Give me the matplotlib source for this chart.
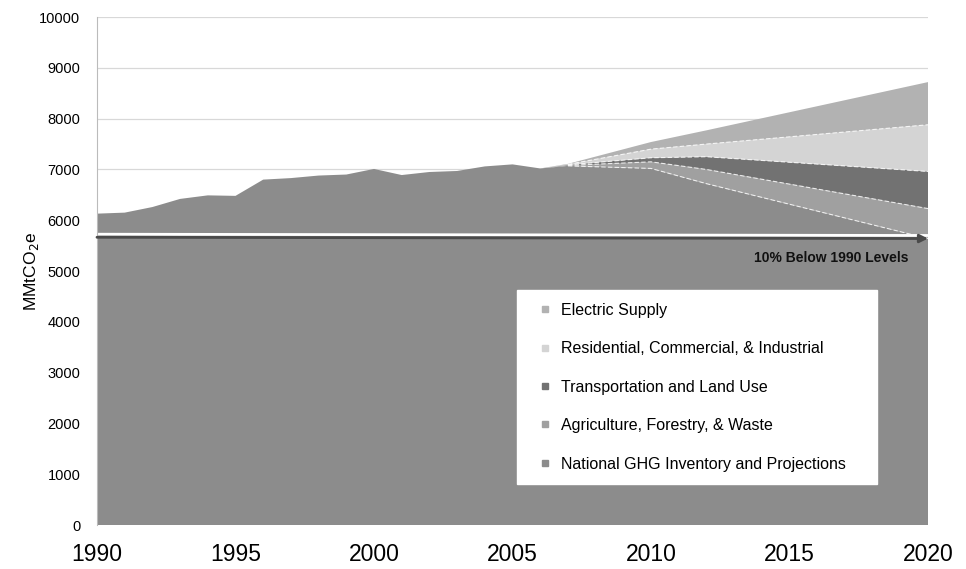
import numpy as np
import matplotlib.pyplot as plt
from matplotlib.lines import Line2D

plt.rcParams['font.family'] = ['Liberation Sans', 'DejaVu Sans']

# historical inventory (MMtCO2e)
hist_years = [1990, 1991, 1992, 1993, 1994, 1995, 1996, 1997, 1998, 1999,
              2000, 2001, 2002, 2003, 2004, 2005, 2006]
hist_vals = [6130, 6150, 6260, 6420, 6490, 6480, 6800, 6830, 6880, 6900,
             7010, 6890, 6950, 6970, 7060, 7100, 7020]

# projection wedges after 2006, stacked from the bottom
proj_years = [2007, 2010, 2012, 2020]
national = [7070, 7020, 6720, 5640]
agriculture = [10, 130, 280, 590]
transport = [10, 80, 250, 730]
residential = [10, 170, 250, 920]
electric = [10, 140, 270, 840]

labels = ['Electric Supply', 'Residential, Commercial, & Industrial',
          'Transportation and Land Use', 'Agriculture, Forestry, & Waste',
          'National GHG Inventory and Projections']
colors = ['#b2b2b2', '#d4d4d4', '#727272', '#a0a0a0', '#8c8c8c']

target_start = 5665
target_end = 5640

years = hist_years + proj_years
zeros = [0] * len(hist_years)
layers = [hist_vals + national, zeros + agriculture, zeros + transport,
          zeros + residential, zeros + electric]

fig = plt.figure(figsize=(9.66, 5.69), dpi=100)
ax = fig.add_axes([0.1004, 0.0773, 0.8603, 0.8927])

ax.set_axisbelow(True)
ax.grid(axis='y', color='#d8d8d8', lw=0.9)

ax.stackplot(years, *layers, colors=colors[::-1], lw=0)

# white dashed boundaries between the wedges
cum = np.cumsum(layers[:4], axis=0)
for row in cum:
    ax.plot(years[len(hist_years):], row[len(hist_years):], color='white', lw=0.8,
            ls=(0, (4, 2)), alpha=0.8)

# target arrow
ax.plot([1990, 2020], [target_start + 60, target_end + 60], color='white', lw=2)
ax.annotate('', xy=(2020, target_end), xytext=(1990, target_start),
            arrowprops=dict(arrowstyle='-|>', color='#4a4a4a', lw=2, mutation_scale=12,
                            shrinkA=0, shrinkB=0))
ax.text(2019.3, 5250, '10% Below 1990 Levels', ha='right', va='center',
        fontsize=10, fontweight='bold', color='#111111')

ax.set_xlim(1990, 2020)
ax.set_ylim(0, 10000)
ax.set_xticks(range(1990, 2021, 5))
ax.set_yticks(range(0, 10001, 1000))
ax.tick_params(axis='x', length=0, pad=13, labelsize=16.5)
ax.tick_params(axis='y', length=0, pad=12, labelsize=10.5)
for s in ['top', 'right', 'bottom']:
    ax.spines[s].set_visible(False)
ax.spines['left'].set_color('#bbbbbb')
ax.set_ylabel('MMtCO$_2$e', fontsize=12.5, labelpad=-1)

handles = [Line2D([], [], marker='s', ls='', color=c, markersize=5) for c in colors]
leg = ax.legend(handles, labels, loc='upper left', bbox_to_anchor=(0.505, 0.363, 0.434, 0.1),
                mode='expand', borderaxespad=0, fontsize=11.5, frameon=True, fancybox=False,
                labelspacing=1.47, handlelength=2.0, handletextpad=0.0, borderpad=0.8)
leg.get_frame().set_facecolor('white')
leg.get_frame().set_edgecolor('white')
leg.get_frame().set_alpha(1)

fig.savefig('out.png', dpi=100)
